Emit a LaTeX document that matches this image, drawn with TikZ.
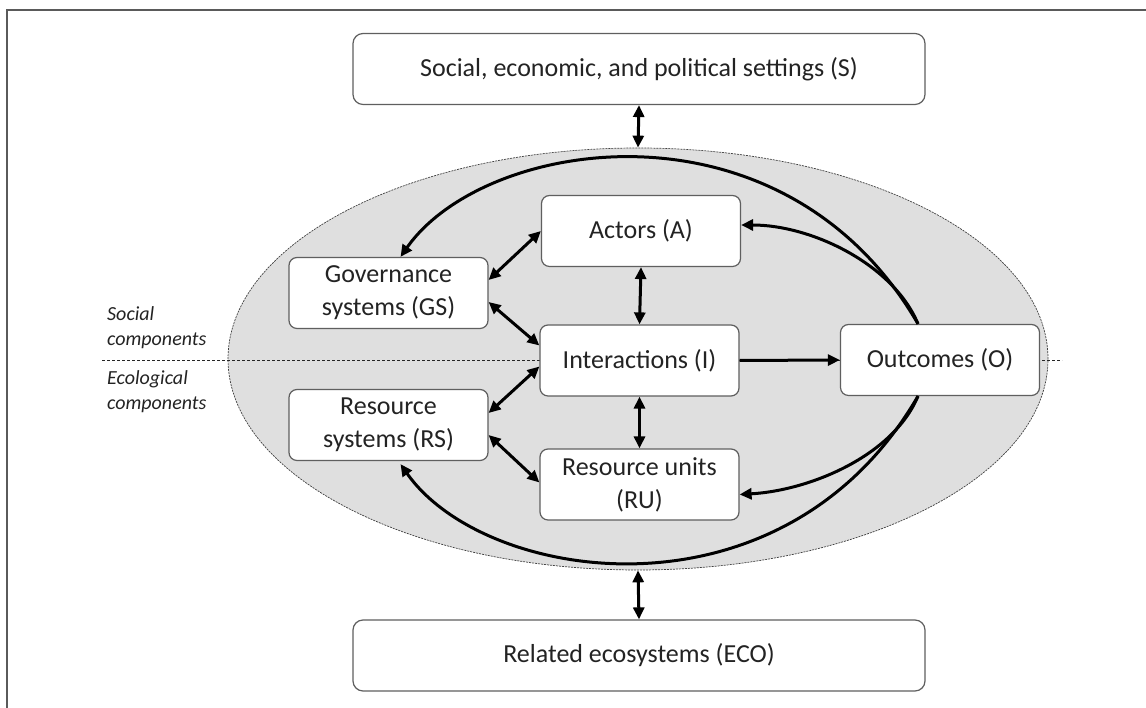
\documentclass[tikz,border=0pt]{standalone}
\usepackage{fontspec}
\setmainfont{Carlito}
\usetikzlibrary{arrows.meta,shapes.geometric}
\definecolor{boxline}{RGB}{95,95,95}
\definecolor{txt}{RGB}{35,35,35}
\definecolor{ellfill}{RGB}{223,223,223}
\definecolor{frame}{RGB}{90,90,90}
\begin{document}
\begin{tikzpicture}[x=1pt,y=1pt,
  box/.style={draw=boxline, line width=1.2pt, fill=white, rounded corners=8pt,
    minimum width=199pt, minimum height=71pt, align=center, text=txt,
    font=\fontsize{26}{33}\selectfont, inner sep=0pt},
  wide/.style={box, minimum width=572pt, rounded corners=10pt},
  link/.style={line width=3pt, black},
  tip/.tip={Triangle[length=12pt,width=11pt]},
  dbl/.style={link, tip-tip},
  one/.style={link, -tip},
  side/.style={text=txt, font=\fontsize{20}{25}\selectfont\itshape, align=left,
    anchor=west, inner sep=0pt}]

\useasboundingbox (0,0) rectangle (1146,708);
\draw[frame, line width=1.4pt] (7,0) -- (7,698) -- (1146,698);

\node[ellipse, draw=black!75, dash pattern=on 2pt off 1pt, line width=0.7pt,
  fill=ellfill, minimum width=820pt, minimum height=422pt, inner sep=0pt] (E) at (638,349) {};

\coordinate (dl) at (102,348);
\coordinate (dr) at (1062,348);
\draw[black!85, line width=0.8pt, dash pattern=on 3pt off 2pt] (dl) -- (dr);

\node[wide] (S) at (639,639) {Social, economic, and political settings (S)};
\node[wide] (ECO) at (639,52.5) {Related ecosystems (ECO)};
\node[box] (GS) at (388.5,415) {Governance\\systems (GS)};
\node[box] (A) at (641,477) {Actors (A)};
\node[box] (I) at (639.5,347.5) {Interactions (I)};
\node[box] (RS) at (388.5,283) {Resource\\systems (RS)};
\node[box] (RU) at (639.5,223.5) {Resource units\\(RU)};
\node[box] (O) at (940,348) {Outcomes (O)};

\node[side] (soc) at (107,380.5) {Social\\components};
\node[side] (eco) at (107,316.5) {Ecological\\components};

\draw[dbl] (S.south) -- (E.north);
\draw[dbl] (E.south) -- (ECO.north);
\draw[dbl] (A.south) -- (I.north);
\draw[dbl] (I.south) -- (RU.north);
\draw[dbl] ([yshift=13pt]GS.east) -- (A.west);
\draw[dbl] ([yshift=-9pt]GS.east) -- ([yshift=15pt]I.west);
\draw[dbl] ([yshift=12pt]RS.east) -- ([yshift=-6pt]I.west);
\draw[dbl] ([yshift=-10pt]RS.east) -- ([yshift=2pt]RU.west);
\draw[one] (I.east) -- (O.west);

\coordinate (Ot) at ([xshift=-22pt]O.north);
\coordinate (Ob) at ([xshift=-22pt]O.south);
\draw[one] (Ot) .. controls +(-25,60) and +(70,0) .. ([yshift=6pt]A.east);
\draw[one] (Ot) .. controls +(-135,233) and +(84,120) .. ([xshift=12pt]GS.north);
\draw[one] (Ob) .. controls +(-25,-60) and +(70,4) .. ([yshift=-10pt]RU.east);
\draw[one] (Ob) .. controls +(-135,-233) and +(84,-120) .. ([xshift=12pt,yshift=-3pt]RS.south);
\end{tikzpicture}
\end{document}
